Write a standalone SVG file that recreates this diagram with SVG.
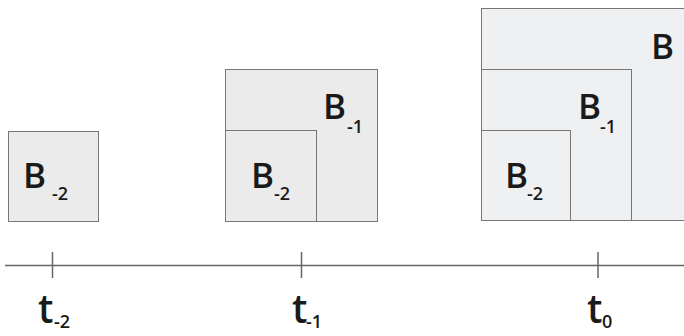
<svg xmlns="http://www.w3.org/2000/svg" width="684" height="336" viewBox="0 0 684 336">
<style>
.box{fill:#ebebeb;stroke:#777;stroke-width:1}
.box3{fill:#eff0f2;stroke:#777;stroke-width:1}
.lbl{font-family:"Open Sans","Liberation Sans",sans-serif;font-weight:600;font-size:35px;fill:#1a1a1a}
.sub{font-family:"Open Sans","Liberation Sans",sans-serif;font-weight:600;font-size:18px;fill:#1a1a1a}
.tl{font-family:"Open Sans","Liberation Sans",sans-serif;font-weight:600;font-size:39px;fill:#1a1a1a}
.axis{stroke:#666;stroke-width:1.5;fill:none}
</style>
<rect width="684" height="336" fill="#fff"/>
<g id="node-b2-t2">
<rect class="box" x="8.5" y="131.5" width="90" height="90"/>
<text class="lbl" x="23" y="188">B</text><text class="sub" x="52" y="200">-2</text>
</g>
<g id="node-b1-t1">
<rect class="box" x="225.5" y="69.5" width="152" height="152"/>
<text class="lbl" x="323" y="119">B</text><text class="sub" x="347" y="133">-1</text>
</g>
<g id="node-b2-t1">
<rect class="box" x="225.5" y="130.5" width="91" height="91"/>
<text class="lbl" x="251" y="188">B</text><text class="sub" x="274" y="200">-2</text>
</g>
<g id="node-b-t0">
<rect class="box3" x="481.5" y="8.5" width="215" height="212"/>
<text class="lbl" x="651" y="59">B</text>
</g>
<g id="node-b1-t0">
<rect class="box3" x="481.5" y="69.5" width="150" height="151"/>
<text class="lbl" x="578" y="119">B</text><text class="sub" x="600" y="133">-1</text>
</g>
<g id="node-b2-t0">
<rect class="box3" x="481.5" y="130.5" width="89" height="90"/>
<text class="lbl" x="505" y="188">B</text><text class="sub" x="527" y="200">-2</text>
</g>
<g id="connectors">
<line class="axis" x1="5" y1="265.5" x2="684" y2="265.5"/>
<line class="axis" x1="52.5" y1="252" x2="52.5" y2="278"/>
<line class="axis" x1="301.5" y1="252" x2="301.5" y2="278"/>
<line class="axis" x1="598" y1="252" x2="598" y2="278"/>
</g>
<g id="axis-labels">
<text class="tl" x="38" y="323">t</text><text class="sub" x="54" y="328">-2</text>
<text class="tl" x="292" y="323">t</text><text class="sub" x="306" y="328">-1</text>
<text class="tl" x="587" y="323">t</text><text class="sub" x="602" y="328">0</text>
</g>
</svg>
